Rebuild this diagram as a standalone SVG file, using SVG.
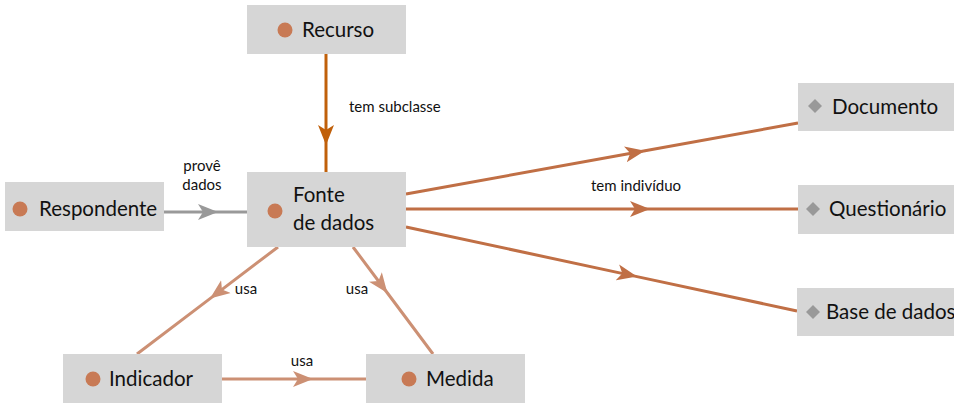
<svg xmlns="http://www.w3.org/2000/svg" width="954" height="405" viewBox="0 0 954 405">
<style>
.box{fill:#d6d6d6}
.dot{fill:#c87a55}
.dia{fill:#999999}
.lbl{font-family:Lato,"Open Sans",sans-serif;font-size:20.5px;fill:#111}
.el{font-family:Lato,"Open Sans",sans-serif;font-size:15px;fill:#111}
.e{fill:none;stroke-width:3}
.c1{stroke:#c0600a;marker-mid:url(#m1)}
.c2{stroke:#c06f45;marker-mid:url(#m2)}
.c3{stroke:#cc9074;marker-mid:url(#m3)}
.c4{stroke:#999999;marker-mid:url(#m4)}
</style>
<defs>
<marker id="m1" markerUnits="userSpaceOnUse" markerWidth="22" markerHeight="18" refX="20" refY="8" orient="auto" viewBox="0 0 22 16"><path d="M0,0 L20,8 L0,16 L5,8 z" fill="#c0600a"/></marker>
<marker id="m2" markerUnits="userSpaceOnUse" markerWidth="22" markerHeight="18" refX="20" refY="8" orient="auto" viewBox="0 0 22 16"><path d="M0,0 L20,8 L0,16 L5,8 z" fill="#c06f45"/></marker>
<marker id="m3" markerUnits="userSpaceOnUse" markerWidth="22" markerHeight="18" refX="20" refY="8" orient="auto" viewBox="0 0 22 16"><path d="M0,0 L20,8 L0,16 L5,8 z" fill="#cc9074"/></marker>
<marker id="m4" markerUnits="userSpaceOnUse" markerWidth="22" markerHeight="18" refX="20" refY="8" orient="auto" viewBox="0 0 22 16"><path d="M0,0 L20,8 L0,16 L5,8 z" fill="#999999"/></marker>
</defs>
<g id="connectors">
<path class="e c1" d="M326,54 L326,145 L326,172"/>
<text class="el" x="349" y="112">tem subclasse</text>
<path class="e c4" d="M164,212 L218,212 L247,212"/>
<text class="el" x="202" y="171" text-anchor="middle">provê</text>
<text class="el" x="202" y="190" text-anchor="middle">dados</text>
<path class="e c2" d="M406,194 L645,150.7 L798,123"/>
<path class="e c2" d="M406,209 L650,209 L798,209"/>
<text class="el" x="636" y="191" text-anchor="middle">tem indivíduo</text>
<path class="e c2" d="M406,227 L637,276.6 L797,311"/>
<path class="e c3" d="M278,247 L210,298.6 L137,354"/>
<text class="el" x="246" y="294" text-anchor="middle">usa</text>
<path class="e c3" d="M353,247 L387.4,293 L433,354"/>
<text class="el" x="357" y="294" text-anchor="middle">usa</text>
<path class="e c3" d="M222,379 L313,379 L366,379"/>
<text class="el" x="302" y="366" text-anchor="middle">usa</text>
</g>
<g id="recurso"><rect class="box" x="247" y="5" width="159" height="49"/><circle class="dot" cx="285" cy="30" r="7.5"/><text class="lbl" x="302" y="37">Recurso</text></g>
<g id="fonte"><rect class="box" x="247" y="172" width="159" height="75"/><circle class="dot" cx="275" cy="211" r="7.5"/><text class="lbl" x="293" y="202">Fonte</text><text class="lbl" x="293" y="230">de dados</text></g>
<g id="respondente"><rect class="box" x="5" y="182" width="159" height="49"/><circle class="dot" cx="20" cy="209" r="7.5"/><text class="lbl" x="39" y="216">Respondente</text></g>
<g id="indicador"><rect class="box" x="63" y="354" width="159" height="49"/><circle class="dot" cx="93" cy="379" r="7.5"/><text class="lbl" x="109" y="386">Indicador</text></g>
<g id="medida"><rect class="box" x="366" y="354" width="159" height="49"/><circle class="dot" cx="409" cy="379" r="7.5"/><text class="lbl" x="426" y="386">Medida</text></g>
<g id="documento"><rect class="box" x="798" y="83" width="156" height="48"/><path class="dia" d="M815,99 L822,106 L815,113 L808,106 z"/><text class="lbl" x="832" y="114">Documento</text></g>
<g id="questionario"><rect class="box" x="798" y="185" width="156" height="49"/><path class="dia" d="M813,202 L820,209 L813,216 L806,209 z"/><text class="lbl" x="829" y="216">Questionário</text></g>
<g id="base"><rect class="box" x="797" y="288" width="157" height="48"/><path class="dia" d="M813,305 L820,312 L813,319 L806,312 z"/><text class="lbl" x="826" y="319">Base de dados</text></g>
</svg>
